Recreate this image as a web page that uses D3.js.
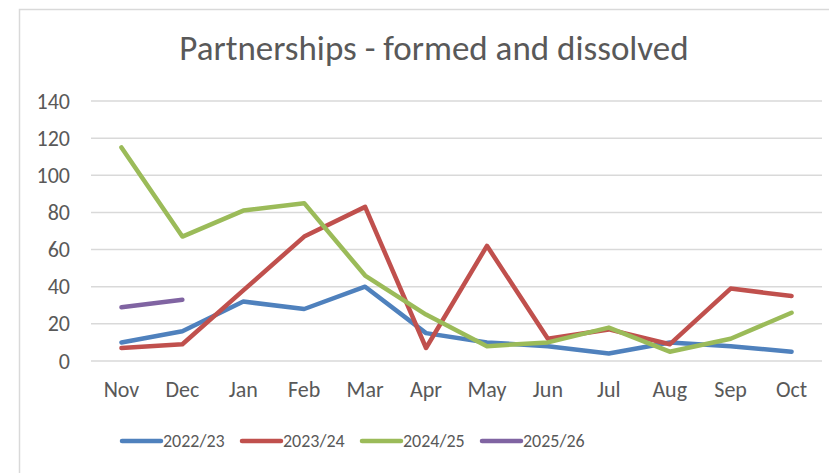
<!DOCTYPE html>
<html>
<head>
<meta charset="utf-8">
<script src="https://cdn.jsdelivr.net/npm/d3@7"></script>
<style>
  body { margin: 0; background: #fff; }
  text { font-family: Carlito, "Liberation Sans Narrow", Lato, sans-serif; fill: #595959; }
</style>
</head>
<body>
<div id="chart"></div>
<script>
// data
const months = ["Nov", "Dec", "Jan", "Feb", "Mar", "Apr", "May", "Jun", "Jul", "Aug", "Sep", "Oct"];
const y2022 = [10, 16, 32, 28, 40, 15, 10, 8, 4, 10, 8, 5];
const y2023 = [7, 9, 38, 67, 83, 7, 62, 12, 17, 9, 39, 35];
const y2024 = [115, 67, 81, 85, 46, 25, 8, 10, 18, 5, 12, 26];
const y2025 = [29, 33];
const yTicks = [0, 20, 40, 60, 80, 100, 120, 140];

const seriesNames = ["2022/23", "2023/24", "2024/25", "2025/26"];
const seriesColors = ["#4f81bd", "#c0504d", "#9bbb59", "#8064a2"];
const series = [y2022, y2023, y2024, y2025];

const W = 829, H = 473;
const plot = { left: 91, right: 822, top: 101, bottom: 361 };

const svg = d3.select("#chart")
    .append("svg")
    .attr("width", W)
    .attr("height", H);

// chart area border (only top and left fall inside the picture)
svg.append("rect")
    .attr("x", 19.5)
    .attr("y", 9.5)
    .attr("width", 860)
    .attr("height", 520)
    .attr("fill", "none")
    .attr("stroke", "#d9d9d9")
    .attr("stroke-width", 1.5);

const x = d3.scaleBand()
    .domain(months)
    .range([plot.left, plot.right]);

const y = d3.scaleLinear()
    .domain([0, 140])
    .range([plot.bottom, plot.top]);

// gridlines
svg.append("g")
    .selectAll("line")
    .data(yTicks)
    .join("line")
    .attr("x1", plot.left)
    .attr("x2", plot.right)
    .attr("y1", d => y(d))
    .attr("y2", d => y(d))
    .attr("stroke", "#d9d9d9")
    .attr("stroke-width", 1.5);

// y axis labels
const yAxis = svg.append("g")
    .attr("transform", `translate(${plot.left - 21},0)`)
    .call(d3.axisLeft(y).tickValues(yTicks).tickSize(0).tickPadding(0));
yAxis.select(".domain").remove();
yAxis.selectAll(".tick text")
    .style("font-size", "22px")
    .attr("fill", "#595959");

// x axis labels
const xAxis = svg.append("g")
    .attr("transform", `translate(0,${plot.bottom})`)
    .call(d3.axisBottom(x).tickSize(0).tickPadding(20));
xAxis.select(".domain").remove();
xAxis.selectAll(".tick text")
    .style("font-size", "22px")
    .attr("fill", "#595959");

// lines
const line = d3.line()
    .x((d, i) => x(months[i]) + x.bandwidth() / 2)
    .y(d => y(d));

svg.append("g")
    .selectAll("path")
    .data(series)
    .join("path")
    .attr("d", d => line(d))
    .attr("fill", "none")
    .attr("stroke", (d, i) => seriesColors[i])
    .attr("stroke-width", 4.5)
    .attr("stroke-linejoin", "round")
    .attr("stroke-linecap", "round");

// title
svg.append("text")
    .attr("x", 434)
    .attr("y", 60)
    .attr("text-anchor", "middle")
    .style("font-size", "35px")
    .style("font-weight", 300)
    .text("Partnerships - formed and dissolved");

// legend
const legend = svg.append("g")
    .selectAll("g")
    .data(seriesNames)
    .join("g")
    .attr("transform", (d, i) => `translate(${122 + i * 120},441)`);

legend.append("line")
    .attr("x1", 0)
    .attr("x2", 39)
    .attr("stroke", (d, i) => seriesColors[i])
    .attr("stroke-width", 4.5)
    .attr("stroke-linecap", "round");

legend.append("text")
    .attr("x", 41)
    .attr("dy", "0.35em")
    .style("font-size", "18px")
    .text(d => d);
</script>
</body>
</html>
